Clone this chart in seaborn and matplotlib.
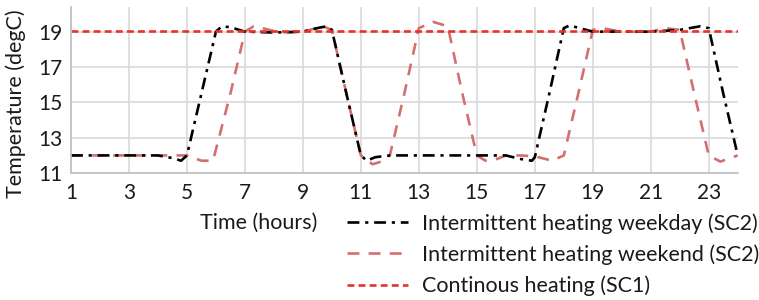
import matplotlib
matplotlib.use("Agg")
import matplotlib.pyplot as plt
import seaborn as sns
import pandas as pd

# hours / temperatures
weekday_hours = [1, 2, 3, 4, 4.5, 4.8, 5, 5.5, 6, 6.2, 6.5, 7, 8, 9, 9.5, 9.8, 10,
                 10.5, 11, 11.2, 11.5, 12, 13, 14, 15, 16, 16.5, 16.9, 17, 17.5,
                 18, 18.2, 19, 20, 21, 22, 22.7, 23, 23.5, 24]
weekday_temp = [12, 12, 12, 12, 11.85, 11.7, 12, 15.5, 19.0, 19.3, 19.25, 19.0, 18.95,
                19.0, 19.2, 19.3, 19.1, 15.5, 12.0, 11.7, 11.9, 12, 12, 12, 12, 12,
                11.8, 11.7, 11.9, 15.5, 19.2, 19.35, 19.0, 19.0, 19.0, 19.1, 19.3,
                19.2, 15.5, 12.0]

weekend_hours = [1, 2, 3, 4, 5, 5.5, 5.9, 6.5, 7, 7.3, 7.6, 8.2, 9, 9.7, 10, 10.5,
                 11, 11.4, 11.8, 12, 12.5, 13, 13.5, 14, 14.5, 15, 15.3, 15.7, 16,
                 16.5, 17, 17.6, 18, 18.5, 19, 19.3, 20, 21, 21.5, 22, 22.5, 23,
                 23.4, 24]
weekend_temp = [12, 12, 12, 12, 12, 11.7, 11.7, 15.5, 19.0, 19.3, 19.2, 18.95, 19.0,
                19.3, 19.1, 15.5, 12.0, 11.5, 11.7, 12.0, 15.5, 19.2, 19.55, 19.3,
                15.5, 12.0, 11.7, 11.8, 12.0, 12.0, 11.95, 11.7, 12.0, 15.5, 19.1,
                19.2, 19.0, 19.0, 19.2, 19.1, 15.5, 12.0, 11.65, 12.0]

continuous_hours = [1, 24]
continuous_temp = [19.05, 19.05]

x_ticks = list(range(1, 24, 2))
y_ticks = [11, 13, 15, 17, 19]

sns.set_theme(style="white")
plt.rcParams['font.family'] = ['Lato', 'DejaVu Sans']

fig = plt.figure(figsize=(7.59, 3.0), dpi=100)
ax = fig.add_axes([0.0935, 0.423, 0.8785, 0.554])

sns.lineplot(x=weekend_hours, y=weekend_temp, ax=ax, color="#d46f6f", linewidth=1.9,
             linestyle=(0, (4.5, 3.5)), label="Intermittent heating weekend (SC2)")
sns.lineplot(x=weekday_hours, y=weekday_temp, ax=ax, color="black", linewidth=1.9,
             linestyle=(0, (4.5, 2.2, 1.2, 2.2)), label="Intermittent heating weekday (SC2)")
sns.lineplot(x=continuous_hours, y=continuous_temp, ax=ax, color="#e3342b", linewidth=1.9,
             linestyle=(0, (2.6, 1.6)), label="Continous heating (SC1)")

ax.set_xlim(1, 24)
ax.set_ylim(11, 20.4)
ax.set_xticks(x_ticks)
ax.set_yticks(y_ticks)
ax.tick_params(labelsize=15, length=0, colors="#1a1a1a")
ax.tick_params(axis="x", pad=7)
ax.tick_params(axis="y", pad=6)
ax.grid(True, color="#d9d9d9", linewidth=1.2)
ax.set_axisbelow(True)
for s in ["top", "right"]:
    ax.spines[s].set_visible(False)
for s in ["left", "bottom"]:
    ax.spines[s].set_color("#bfbfbf")
    ax.spines[s].set_linewidth(1.2)

ax.set_ylabel("Temperature (degC)", fontsize=15.5, color="#1a1a1a")
ax.yaxis.set_label_coords(-0.067, 0.42)
ax.set_xlabel("Time (hours)", fontsize=15.5, color="#1a1a1a")
ax.xaxis.set_label_coords(0.281, -0.24)

handles, labels = ax.get_legend_handles_labels()
order = [1, 0, 2]
ax.legend([handles[i] for i in order], [labels[i] for i in order],
          loc="upper left", bbox_to_anchor=(0.457, 0.29), bbox_transform=fig.transFigure,
          frameon=False, fontsize=15.5, handlelength=2.85, handletextpad=0.62,
          labelspacing=0.5, borderaxespad=0, borderpad=0, labelcolor="#1a1a1a")

fig.savefig("out.png", dpi=100)
